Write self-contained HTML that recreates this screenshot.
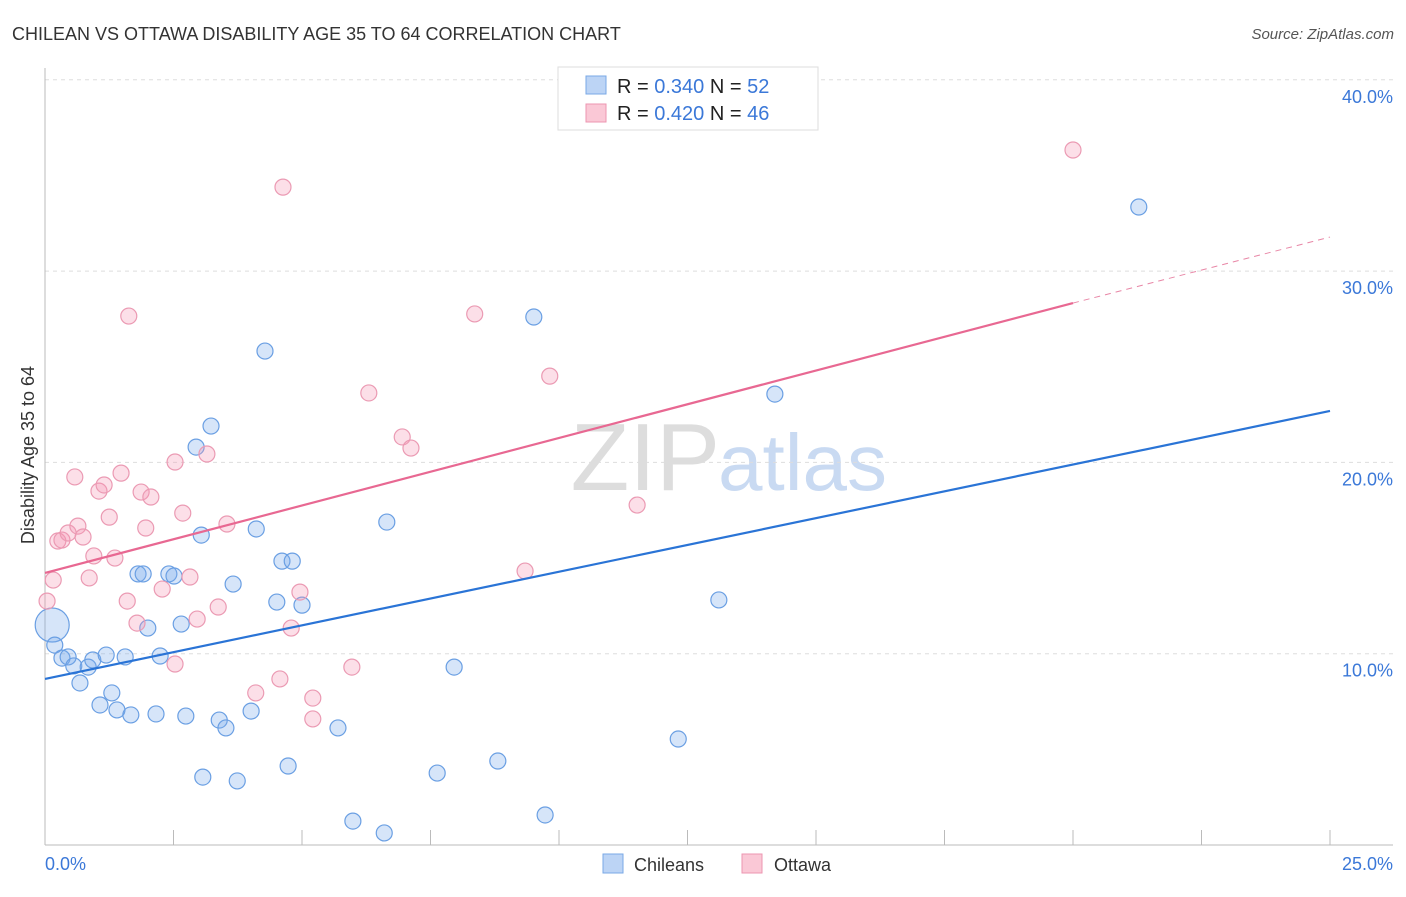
<!DOCTYPE html>
<html><head><meta charset="utf-8"><style>
body{margin:0;background:#fff;font-family:"Liberation Sans",sans-serif;}
svg text{font-family:"Liberation Sans",sans-serif;}
</style></head><body>
<svg id="chart" width="1406" height="892" xmlns="http://www.w3.org/2000/svg">
<text x="12" y="40" font-size="18" fill="#333">CHILEAN VS OTTAWA DISABILITY AGE 35 TO 64 CORRELATION CHART</text>
<text x="1394" y="39" font-size="15" fill="#555" font-style="italic" text-anchor="end">Source: ZipAtlas.com</text>
<text x="720" y="490" font-size="96" fill="#ddd" font-family="Liberation Serif" text-anchor="end">ZIP</text>
<text x="718" y="490" font-size="80" fill="#c9daf2">atlas</text>
<g id="grid"></g>
<g id="axes"></g>
<g id="points"></g>
<g id="trends"></g>
<text transform="translate(34,455) rotate(-90)" font-size="18" fill="#333" text-anchor="middle">Disability Age 35 to 64</text>
<text x="45" y="870" font-size="18" fill="#3b78d8">0.0%</text>
<text x="1393" y="870" font-size="18" fill="#3b78d8" text-anchor="end">25.0%</text>
<g>
<rect x="558" y="67" width="260" height="63" fill="#fff" stroke="#ddd"/>
<rect x="586" y="76" width="20" height="18" fill="#bcd4f5" stroke="#7aa8e6"/>
<rect x="586" y="104" width="20" height="18" fill="#fac8d6" stroke="#ec96b0"/>
<text x="617" y="93" font-size="20" fill="#222">R = <tspan fill="#3b78d8">0.340</tspan>   N = <tspan fill="#3b78d8">52</tspan></text>
<text x="617" y="120" font-size="20" fill="#222">R = <tspan fill="#3b78d8">0.420</tspan>   N = <tspan fill="#3b78d8">46</tspan></text>
</g>
<g>
<rect x="603" y="854" width="20" height="19" fill="#bcd4f5" stroke="#7aa8e6"/>
<text x="634" y="871" font-size="18" fill="#333">Chileans</text>
<rect x="742" y="854" width="20" height="19" fill="#fac8d6" stroke="#ec96b0"/>
<text x="774" y="871" font-size="18" fill="#333">Ottawa</text>
</g>
</svg>
<script>
const yTicks=[10,20,30,40];
const yTickLabels=["10.0%","20.0%","30.0%","40.0%"];
const xTicks=[2.5,5,7.5,10,12.5,15,17.5,20,22.5,25];
const blueX=[0.14,0.19,0.33,0.45,0.56,0.68,0.84,0.93,1.07,1.19,1.30,1.40,1.56,1.67,1.81,1.91,2.00,2.16,2.24,2.41,2.51,2.65,2.74,2.94,3.04,3.07,3.23,3.39,3.52,3.66,3.74,4.01,4.11,4.28,4.51,4.61,4.73,4.81,5.00,5.70,5.99,6.60,6.65,7.63,7.96,8.81,9.51,9.73,12.32,13.11,14.20,21.28];
const blueY=[11.50,10.45,9.77,9.83,9.36,8.47,9.30,9.67,7.32,9.93,7.95,7.06,9.83,6.80,14.17,14.17,11.34,6.85,9.88,14.17,14.06,11.55,6.74,20.80,16.20,3.55,21.90,6.53,6.12,13.64,3.35,7.00,16.52,25.82,12.70,14.84,4.13,14.84,12.54,6.12,1.25,0.63,16.88,3.76,9.30,4.39,27.60,1.57,5.54,12.81,23.57,33.35];
const pinkX=[0.04,0.16,0.25,0.33,0.45,0.58,0.64,0.74,0.86,0.95,1.05,1.15,1.25,1.36,1.48,1.60,1.63,1.79,1.87,1.96,2.06,2.28,2.53,2.53,2.68,2.82,2.96,3.15,3.37,3.54,4.10,4.57,4.63,4.79,4.96,5.21,5.21,5.97,6.30,6.95,7.12,8.36,9.34,9.82,11.52,20.00];
const pinkY=[12.75,13.85,15.89,15.94,16.31,19.24,16.67,16.10,13.96,15.11,18.50,18.82,17.14,15.00,19.44,12.75,27.65,11.60,18.45,16.57,18.19,13.38,9.46,20.02,17.35,14.01,11.81,20.44,12.44,16.78,7.95,8.68,34.39,11.34,13.22,7.68,6.59,9.30,23.63,21.33,20.75,27.76,14.32,24.51,17.77,36.33];
const blueTrend=[0,8.68,25,22.69];
const pinkTrend=[0,14.22,20,28.33,25,31.78];
const NS="http://www.w3.org/2000/svg";
function xs(v){return 45+v*(1285/25);}
function ys(v){return 845-v*19.13;}
function mk(tag,attrs,parent){const e=document.createElementNS(NS,tag);for(const k in attrs)e.setAttribute(k,attrs[k]);document.getElementById(parent).appendChild(e);return e;}
yTicks.forEach((t,i)=>{
 const l=mk('line',{x1:45,x2:1393,y1:ys(t),y2:ys(t),stroke:'#ddd','stroke-dasharray':'4,4'},'grid');
 
 
 const tx=mk('text',{x:1393,y:ys(t)+23,'font-size':18,fill:'#3b78d8','text-anchor':'end'},'grid');
 tx.textContent=yTickLabels[i];
 
 
});
const ax=mk('line',{x1:45,x2:45,y1:68,y2:845,stroke:'#bbb'},'axes');


const bx=mk('line',{x1:45,x2:1393,y1:845,y2:845,stroke:'#bbb'},'axes');


xTicks.forEach(t=>{
 const l=mk('line',{x1:xs(t),x2:xs(t),y1:830,y2:845,stroke:'#bbb'},'axes');
 
 
});
blueX.forEach((x,i)=>{
 const c=mk('circle',{cx:xs(x),cy:ys(blueY[i]),r:i===0?17:8,fill:'rgba(120,170,235,0.3)',stroke:'#6a9fe3','stroke-width':1.2},'points');
 
 
});
pinkX.forEach((x,i)=>{
 const c=mk('circle',{cx:xs(x),cy:ys(pinkY[i]),r:8,fill:'rgba(245,150,180,0.3)',stroke:'#eb9ab3','stroke-width':1.2},'points');
 
 
});
const bl=mk('line',{x1:xs(blueTrend[0]),y1:ys(blueTrend[1]),x2:xs(blueTrend[2]),y2:ys(blueTrend[3]),stroke:'#2a74d6','stroke-width':2.2},'trends');


const pl=mk('line',{x1:xs(pinkTrend[0]),y1:ys(pinkTrend[1]),x2:xs(pinkTrend[2]),y2:ys(pinkTrend[3]),stroke:'#e86892','stroke-width':2.2},'trends');


const pd=mk('line',{x1:xs(pinkTrend[2]),y1:ys(pinkTrend[3]),x2:xs(pinkTrend[4]),y2:ys(pinkTrend[5]),stroke:'#e886a6','stroke-width':1,'stroke-dasharray':'6,5'},'trends');


</script>
</body></html>
